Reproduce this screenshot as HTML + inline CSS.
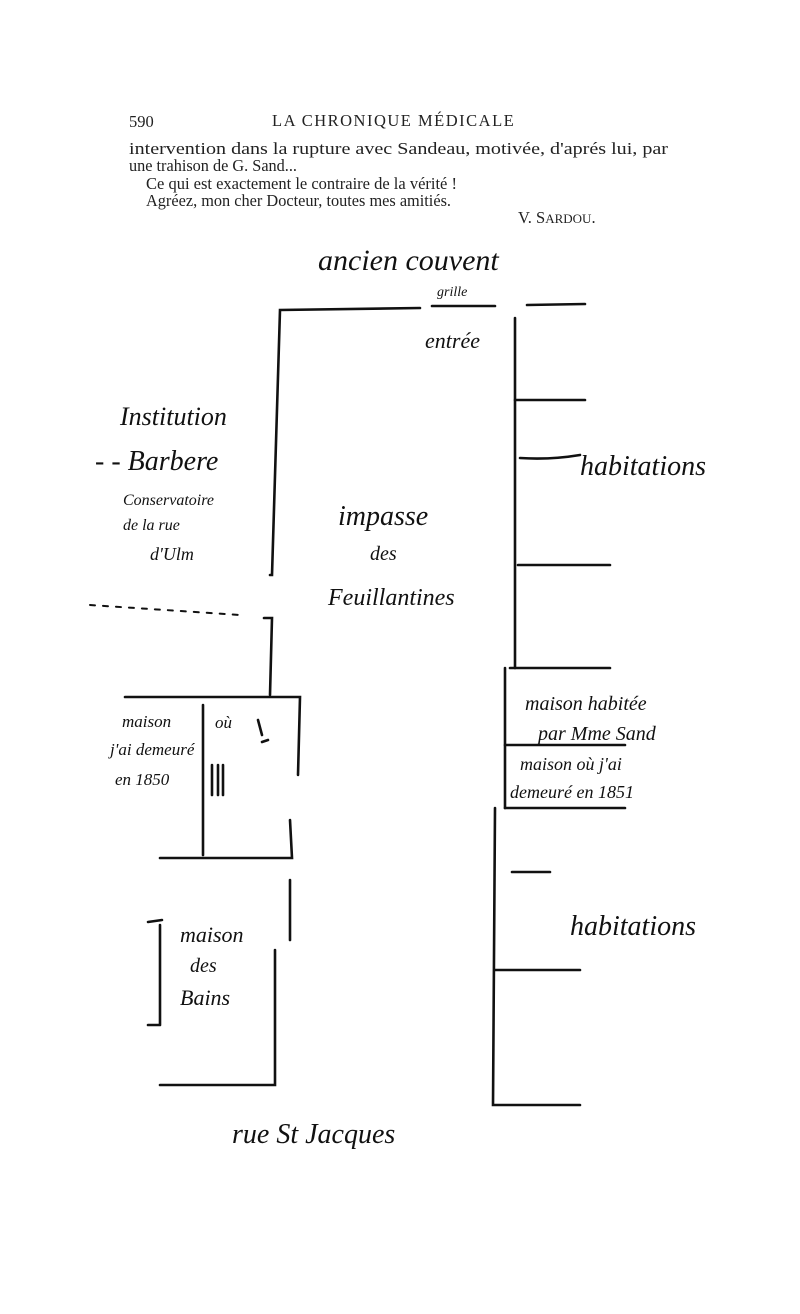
<!DOCTYPE html>
<html><head><meta charset="utf-8"><style>
body{margin:0;background:#fff;}
svg{display:block}
.t{font-family:"Liberation Serif",serif;font-size:16.5px;fill:#222}
.h{font-family:"Liberation Serif",serif;font-style:italic;fill:#111}
</style></head><body>
<svg width="800" height="1314" viewBox="0 0 800 1314" xmlns="http://www.w3.org/2000/svg">
<rect width="800" height="1314" fill="#fff"/>
<text class="t" x="129" y="127" font-size="17">590</text>
<text class="t" x="272" y="126" font-size="13.5" letter-spacing="1.5">LA CHRONIQUE MÉDICALE</text>
<text class="t" x="129" y="154" textLength="539" lengthAdjust="spacingAndGlyphs">intervention dans la rupture avec  Sandeau, motivée, d'aprés lui, par</text>
<text class="t" x="129" y="171" textLength="168" lengthAdjust="spacingAndGlyphs">une trahison de G. Sand...</text>
<text class="t" x="146" y="189" textLength="311" lengthAdjust="spacingAndGlyphs">Ce qui est exactement le contraire de la vérité !</text>
<text class="t" x="146" y="206" textLength="305" lengthAdjust="spacingAndGlyphs">Agréez, mon cher Docteur, toutes mes amitiés.</text>
<text class="t" x="518" y="223">V. S<tspan font-size="13">ARDOU</tspan>.</text>
<g stroke="#111" stroke-width="2.6" fill="none" stroke-linecap="round">
<path d="M270 575 L272 575 L280 310 L420 308"/>
<path d="M432 306 L495 306 M527 305 L585 304"/>
<path d="M515 318 L515 668 M505 668 L505 808 M495 808 L493 1105 L580 1105"/>
<path d="M515 400 L585 400 M520 458 Q550 460 580 455 M518 565 L610 565 M510 668 L610 668 M505 745 L625 745 M505 808 L625 808 M512 872 L550 872 M495 970 L580 970"/>
<path d="M90 605 L240 615" stroke-dasharray="5 8" stroke-width="2"/>
<path d="M264 618 L272 618 L270 695 M125 697 L300 697 L298 775 M203 705 L203 855 M160 858 L292 858 L290 820 M290 880 L290 940 M275 950 L275 1085 L160 1085 M160 925 L160 1025 M148 922 L162 920 M148 1025 L160 1025"/>
<path d="M258 720 L262 735 M262 742 L268 740"/>
<path d="M212 765 L212 795 M218 765 L218 795 M223 765 L223 795"/>
</g>
<g class="h">
<text x="318" y="270" font-size="30">ancien couvent</text>
<text x="437" y="296" font-size="14">grille</text>
<text x="425" y="348" font-size="22">entrée</text>
<text x="120" y="425" font-size="26">Institution</text>
<text x="95" y="470" font-size="28">- - Barbere</text>
<text x="123" y="505" font-size="16">Conservatoire</text>
<text x="123" y="530" font-size="16">de la rue</text>
<text x="150" y="560" font-size="18">d'Ulm</text>
<text x="338" y="525" font-size="28">impasse</text>
<text x="370" y="560" font-size="20">des</text>
<text x="328" y="605" font-size="24">Feuillantines</text>
<text x="580" y="475" font-size="28">habitations</text>
<text x="525" y="710" font-size="20">maison habitée</text>
<text x="538" y="740" font-size="20">par Mme Sand</text>
<text x="520" y="770" font-size="18">maison où j'ai</text>
<text x="510" y="798" font-size="18">demeuré en 1851</text>
<text x="570" y="935" font-size="28">habitations</text>
<text x="122" y="727" font-size="17">maison</text>
<text x="215" y="728" font-size="17">où</text>
<text x="110" y="755" font-size="17">j'ai demeuré</text>
<text x="115" y="785" font-size="17">en 1850</text>
<text x="180" y="942" font-size="22">maison</text>
<text x="190" y="972" font-size="20">des</text>
<text x="180" y="1005" font-size="22">Bains</text>
<text x="232" y="1143" font-size="28">rue St Jacques</text>
</g>
</svg>
</body></html>
